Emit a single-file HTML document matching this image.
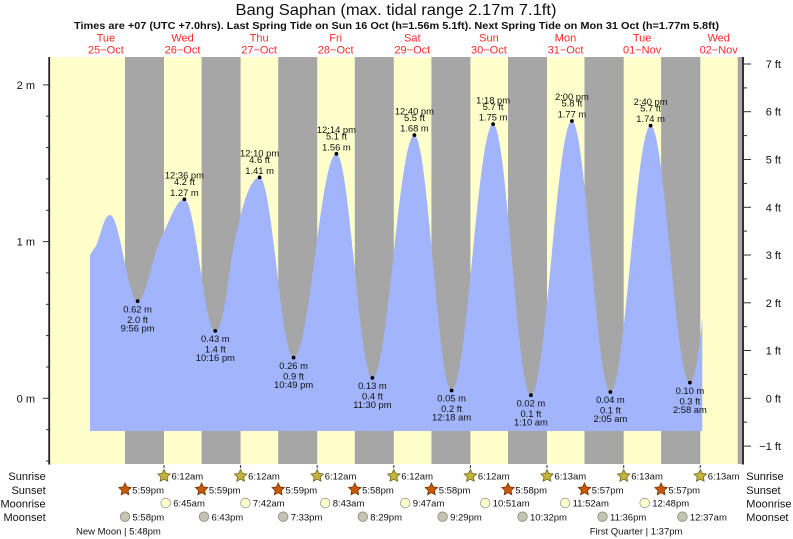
<!DOCTYPE html>
<html><head><meta charset="utf-8"><style>
html,body{margin:0;padding:0;background:#fff;}
svg{display:block;}
text{font-family:"Liberation Sans",Arial,sans-serif;}
</style></head><body>
<svg width="793" height="539" viewBox="0 0 793 539" xmlns="http://www.w3.org/2000/svg">
<rect width="793" height="539" fill="#fff"/>
<!-- Header -->
<text x="396" y="15" font-size="16" text-anchor="middle" fill="#111" textLength="321" lengthAdjust="spacingAndGlyphs">Bang Saphan (max. tidal range 2.17m 7.1ft)</text>
<text x="396.5" y="29" font-size="10" font-weight="bold" text-anchor="middle" fill="#111" textLength="645" lengthAdjust="spacingAndGlyphs">Times are +07 (UTC +7.0hrs). Last Spring Tide on Sun 16 Oct (h=1.56m 5.1ft). Next Spring Tide on Mon 31 Oct (h=1.77m 5.8ft)</text>
<g font-size="11" fill="#ff2a2a" text-anchor="middle">
<text x="105.9" y="41.5">Tue</text><text x="105.9" y="53.5">25−Oct</text>
<text x="182.5" y="41.5">Wed</text><text x="182.5" y="53.5">26−Oct</text>
<text x="259.1" y="41.5">Thu</text><text x="259.1" y="53.5">27−Oct</text>
<text x="335.7" y="41.5">Fri</text><text x="335.7" y="53.5">28−Oct</text>
<text x="412.3" y="41.5">Sat</text><text x="412.3" y="53.5">29−Oct</text>
<text x="488.9" y="41.5">Sun</text><text x="488.9" y="53.5">30−Oct</text>
<text x="565.5" y="41.5">Mon</text><text x="565.5" y="53.5">31−Oct</text>
<text x="642.1" y="41.5">Tue</text><text x="642.1" y="53.5">01−Nov</text>
<text x="718.7" y="41.5">Wed</text><text x="718.7" y="53.5">02−Nov</text>
</g>
<!-- Plot background -->
<rect x="50" y="57" width="692" height="407" fill="#ffffcc"/>
<g fill="#a6a6a6">
<rect x="125.0" y="57" width="39.0" height="407"/>
<rect x="201.6" y="57" width="39.0" height="407"/>
<rect x="278.2" y="57" width="39.0" height="407"/>
<rect x="354.8" y="57" width="39.0" height="407"/>
<rect x="431.4" y="57" width="39.0" height="407"/>
<rect x="508.0" y="57" width="39.0" height="407"/>
<rect x="584.5" y="57" width="39.2" height="407"/>
<rect x="661.1" y="57" width="39.2" height="407"/>
<rect x="737.7" y="57" width="4.5" height="407"/>
</g>
<!-- Tide fill -->
<path fill="#a1b4fc" d="M90,431 L90,255 C92,251 94,249 96,246 C101,235 104,215 110,215 C120,215 127.6,301.1 137.6,301.1 C146,301.1 152,255 161.7,236.7 C170,221 176,199.3 184.4,199.3 C195.65,199.3 204.05,330.9 215.3,330.9 C224,330.9 228,275 233,250 C239,220 248,177.4 259.6,177.4 C272,177.4 281.2,357.6 293.6,357.6 C309.2,357.6 320.8,153.8 336.4,153.8 C349.5,153.8 359.3,377.9 372.4,377.9 C387.7,377.9 399.1,135.1 414.4,135.1 C427.9,135.1 438.1,390.5 451.6,390.5 C466.7,390.5 478,124.1 493.1,124.1 C506.9,124.1 517.1,395.2 530.9,395.2 C545.8,395.2 557,121 571.9,121 C585.9,121 596.4,392 610.4,392 C625,392 636,125.6 650.6,125.6 C664.9,125.6 675.6,382.6 689.9,382.6 C695,382.6 699.5,350 702.3,316.7 L702.3,431 Z"/>
<!-- Dots -->
<g fill="#000">
<circle cx="137.6" cy="301.1" r="1.9"/><circle cx="184.4" cy="199.3" r="1.9"/>
<circle cx="215.3" cy="330.9" r="1.9"/><circle cx="259.6" cy="177.4" r="1.9"/>
<circle cx="293.6" cy="357.6" r="1.9"/><circle cx="336.4" cy="153.8" r="1.9"/>
<circle cx="372.4" cy="377.9" r="1.9"/><circle cx="414.4" cy="135.1" r="1.9"/>
<circle cx="451.6" cy="390.5" r="1.9"/><circle cx="493.1" cy="124.1" r="1.9"/>
<circle cx="530.9" cy="395.2" r="1.9"/><circle cx="571.9" cy="121.0" r="1.9"/>
<circle cx="610.4" cy="392.0" r="1.9"/><circle cx="650.6" cy="125.6" r="1.9"/>
<circle cx="689.9" cy="382.6" r="1.9"/>
</g>
<!-- High labels -->
<g font-size="9.4" fill="#111" text-anchor="middle">
<text x="184.4" y="178.5">12:36 pm</text><text x="184.4" y="185">4.2 ft</text><text x="184.4" y="195.8">1.27 m</text>
<text x="259.6" y="156.6">12:10 pm</text><text x="259.6" y="163.1">4.6 ft</text><text x="259.6" y="173.9">1.41 m</text>
<text x="336.4" y="133">12:14 pm</text><text x="336.4" y="139.5">5.1 ft</text><text x="336.4" y="150.3">1.56 m</text>
<text x="414.4" y="114.3">12:40 pm</text><text x="414.4" y="120.8">5.5 ft</text><text x="414.4" y="131.6">1.68 m</text>
<text x="493.1" y="103.3">1:18 pm</text><text x="493.1" y="109.8">5.7 ft</text><text x="493.1" y="120.6">1.75 m</text>
<text x="571.9" y="100.2">2:00 pm</text><text x="571.9" y="106.7">5.8 ft</text><text x="571.9" y="117.5">1.77 m</text>
<text x="650.6" y="104.8">2:40 pm</text><text x="650.6" y="111.3">5.7 ft</text><text x="650.6" y="122.1">1.74 m</text>
</g>
<!-- Low labels -->
<g font-size="9.4" fill="#111" text-anchor="middle">
<text x="137.6" y="312.3">0.62 m</text><text x="137.6" y="322.8">2.0 ft</text><text x="137.6" y="331.3">9:56 pm</text>
<text x="215.3" y="342.1">0.43 m</text><text x="215.3" y="352.6">1.4 ft</text><text x="215.3" y="361.1">10:16 pm</text>
<text x="293.6" y="368.8">0.26 m</text><text x="293.6" y="379.3">0.9 ft</text><text x="293.6" y="387.8">10:49 pm</text>
<text x="372.4" y="389.1">0.13 m</text><text x="372.4" y="399.6">0.4 ft</text><text x="372.4" y="408.1">11:30 pm</text>
<text x="451.6" y="401.7">0.05 m</text><text x="451.6" y="412.2">0.2 ft</text><text x="451.6" y="420.7">12:18 am</text>
<text x="530.9" y="406.4">0.02 m</text><text x="530.9" y="416.9">0.1 ft</text><text x="530.9" y="425.4">1:10 am</text>
<text x="610.4" y="403.2">0.04 m</text><text x="610.4" y="413.7">0.1 ft</text><text x="610.4" y="422.2">2:05 am</text>
<text x="689.9" y="393.8">0.10 m</text><text x="689.9" y="404.3">0.3 ft</text><text x="689.9" y="412.8">2:58 am</text>
</g>
<!-- Axes -->
<rect x="48.3" y="57" width="1.8" height="407.5" fill="#222"/>
<rect x="742" y="57" width="2" height="407.5" fill="#333"/>
<g stroke="#333" stroke-width="1">
<line x1="43" y1="398.3" x2="49" y2="398.3"/><line x1="43" y1="241.6" x2="49" y2="241.6"/><line x1="43" y1="84.9" x2="49" y2="84.9"/>
<line x1="46" y1="461.0" x2="49" y2="461.0"/><line x1="46" y1="429.6" x2="49" y2="429.6"/>
<line x1="46" y1="367.0" x2="49" y2="367.0"/><line x1="46" y1="335.6" x2="49" y2="335.6"/>
<line x1="46" y1="304.3" x2="49" y2="304.3"/><line x1="46" y1="272.9" x2="49" y2="272.9"/>
<line x1="46" y1="210.3" x2="49" y2="210.3"/><line x1="46" y1="178.9" x2="49" y2="178.9"/>
<line x1="46" y1="147.6" x2="49" y2="147.6"/><line x1="46" y1="116.2" x2="49" y2="116.2"/>
<!-- right -->
<line x1="744" y1="446.1" x2="751" y2="446.1"/><line x1="744" y1="398.3" x2="751" y2="398.3"/>
<line x1="744" y1="350.5" x2="751" y2="350.5"/><line x1="744" y1="302.8" x2="751" y2="302.8"/>
<line x1="744" y1="255.0" x2="751" y2="255.0"/><line x1="744" y1="207.3" x2="751" y2="207.3"/>
<line x1="744" y1="159.5" x2="751" y2="159.5"/><line x1="744" y1="111.7" x2="751" y2="111.7"/>
<line x1="744" y1="64.0" x2="751" y2="64.0"/>
<line x1="744" y1="422.2" x2="747" y2="422.2"/><line x1="744" y1="374.4" x2="747" y2="374.4"/>
<line x1="744" y1="326.7" x2="747" y2="326.7"/><line x1="744" y1="278.9" x2="747" y2="278.9"/>
<line x1="744" y1="231.1" x2="747" y2="231.1"/><line x1="744" y1="183.4" x2="747" y2="183.4"/>
<line x1="744" y1="135.6" x2="747" y2="135.6"/><line x1="744" y1="87.9" x2="747" y2="87.9"/>
<!-- bottom ticks at sunrise -->
<line x1="164.0" y1="465" x2="164.0" y2="468"/><line x1="240.6" y1="465" x2="240.6" y2="468"/>
<line x1="317.2" y1="465" x2="317.2" y2="468"/><line x1="393.8" y1="465" x2="393.8" y2="468"/>
<line x1="470.4" y1="465" x2="470.4" y2="468"/><line x1="547.0" y1="465" x2="547.0" y2="468"/>
<line x1="623.7" y1="465" x2="623.7" y2="468"/><line x1="700.3" y1="465" x2="700.3" y2="468"/>
</g>
<g font-size="11" fill="#111" text-anchor="end">
<text x="35" y="402.3">0 m</text><text x="35" y="245.6">1 m</text><text x="35" y="88.9">2 m</text>
</g>
<g font-size="11" fill="#111" text-anchor="end">
<text x="781" y="68">7 ft</text><text x="781" y="115.7">6 ft</text><text x="781" y="163.5">5 ft</text>
<text x="781" y="211.3">4 ft</text><text x="781" y="259">3 ft</text><text x="781" y="306.8">2 ft</text>
<text x="781" y="354.5">1 ft</text><text x="781" y="402.3">0 ft</text><text x="781" y="450.1">−1 ft</text>
</g>
<!-- Row labels -->
<g font-size="11" fill="#111" text-anchor="end">
<text x="45.7" y="479.8">Sunrise</text><text x="45.7" y="493.8">Sunset</text>
<text x="45.7" y="507.3">Moonrise</text><text x="45.7" y="520.8">Moonset</text>
</g>
<g font-size="11" fill="#111">
<text x="746.3" y="479.8">Sunrise</text><text x="746.3" y="493.8">Sunset</text>
<text x="746.3" y="507.3">Moonrise</text><text x="746.3" y="520.8">Moonset</text>
</g>
<!-- Sunrise stars -->
<g fill="#c4b43c" stroke="#6e6420" stroke-width="0.8">
<polygon transform="translate(164.0,476)" points="0,-6.5 1.88,-2.59 6.18,-2.01 3.04,0.99 3.82,5.26 0,3.2 -3.82,5.26 -3.04,0.99 -6.18,-2.01 -1.88,-2.59"/>
<polygon transform="translate(240.6,476)" points="0,-6.5 1.88,-2.59 6.18,-2.01 3.04,0.99 3.82,5.26 0,3.2 -3.82,5.26 -3.04,0.99 -6.18,-2.01 -1.88,-2.59"/>
<polygon transform="translate(317.2,476)" points="0,-6.5 1.88,-2.59 6.18,-2.01 3.04,0.99 3.82,5.26 0,3.2 -3.82,5.26 -3.04,0.99 -6.18,-2.01 -1.88,-2.59"/>
<polygon transform="translate(393.8,476)" points="0,-6.5 1.88,-2.59 6.18,-2.01 3.04,0.99 3.82,5.26 0,3.2 -3.82,5.26 -3.04,0.99 -6.18,-2.01 -1.88,-2.59"/>
<polygon transform="translate(470.4,476)" points="0,-6.5 1.88,-2.59 6.18,-2.01 3.04,0.99 3.82,5.26 0,3.2 -3.82,5.26 -3.04,0.99 -6.18,-2.01 -1.88,-2.59"/>
<polygon transform="translate(547.0,476)" points="0,-6.5 1.88,-2.59 6.18,-2.01 3.04,0.99 3.82,5.26 0,3.2 -3.82,5.26 -3.04,0.99 -6.18,-2.01 -1.88,-2.59"/>
<polygon transform="translate(623.7,476)" points="0,-6.5 1.88,-2.59 6.18,-2.01 3.04,0.99 3.82,5.26 0,3.2 -3.82,5.26 -3.04,0.99 -6.18,-2.01 -1.88,-2.59"/>
<polygon transform="translate(700.3,476)" points="0,-6.5 1.88,-2.59 6.18,-2.01 3.04,0.99 3.82,5.26 0,3.2 -3.82,5.26 -3.04,0.99 -6.18,-2.01 -1.88,-2.59"/>
</g>
<!-- Sunset stars -->
<g fill="#c85a08" stroke="#6e3000" stroke-width="0.8">
<polygon transform="translate(125.0,489.5)" points="0,-6.5 1.88,-2.59 6.18,-2.01 3.04,0.99 3.82,5.26 0,3.2 -3.82,5.26 -3.04,0.99 -6.18,-2.01 -1.88,-2.59"/>
<polygon transform="translate(201.6,489.5)" points="0,-6.5 1.88,-2.59 6.18,-2.01 3.04,0.99 3.82,5.26 0,3.2 -3.82,5.26 -3.04,0.99 -6.18,-2.01 -1.88,-2.59"/>
<polygon transform="translate(278.2,489.5)" points="0,-6.5 1.88,-2.59 6.18,-2.01 3.04,0.99 3.82,5.26 0,3.2 -3.82,5.26 -3.04,0.99 -6.18,-2.01 -1.88,-2.59"/>
<polygon transform="translate(354.8,489.5)" points="0,-6.5 1.88,-2.59 6.18,-2.01 3.04,0.99 3.82,5.26 0,3.2 -3.82,5.26 -3.04,0.99 -6.18,-2.01 -1.88,-2.59"/>
<polygon transform="translate(431.4,489.5)" points="0,-6.5 1.88,-2.59 6.18,-2.01 3.04,0.99 3.82,5.26 0,3.2 -3.82,5.26 -3.04,0.99 -6.18,-2.01 -1.88,-2.59"/>
<polygon transform="translate(508.0,489.5)" points="0,-6.5 1.88,-2.59 6.18,-2.01 3.04,0.99 3.82,5.26 0,3.2 -3.82,5.26 -3.04,0.99 -6.18,-2.01 -1.88,-2.59"/>
<polygon transform="translate(584.5,489.5)" points="0,-6.5 1.88,-2.59 6.18,-2.01 3.04,0.99 3.82,5.26 0,3.2 -3.82,5.26 -3.04,0.99 -6.18,-2.01 -1.88,-2.59"/>
<polygon transform="translate(661.1,489.5)" points="0,-6.5 1.88,-2.59 6.18,-2.01 3.04,0.99 3.82,5.26 0,3.2 -3.82,5.26 -3.04,0.99 -6.18,-2.01 -1.88,-2.59"/>
</g>
<!-- Moonrise circles -->
<g fill="#ffffcc" stroke="#999" stroke-width="0.8">
<circle cx="165.7" cy="503" r="4.8"/><circle cx="245.4" cy="503" r="4.8"/>
<circle cx="325.2" cy="503" r="4.8"/><circle cx="405.2" cy="503" r="4.8"/>
<circle cx="485.2" cy="503" r="4.8"/><circle cx="565.1" cy="503" r="4.8"/>
<circle cx="644.7" cy="503" r="4.8"/>
</g>
<!-- Moonset circles -->
<g fill="#c4c4b0" stroke="#888" stroke-width="0.8">
<circle cx="125.0" cy="516.7" r="4.8"/><circle cx="204.0" cy="516.7" r="4.8"/>
<circle cx="283.2" cy="516.7" r="4.8"/><circle cx="362.8" cy="516.7" r="4.8"/>
<circle cx="442.6" cy="516.7" r="4.8"/><circle cx="522.5" cy="516.7" r="4.8"/>
<circle cx="602.5" cy="516.7" r="4.8"/><circle cx="682.4" cy="516.7" r="4.8"/>
</g>
<!-- Times -->
<g font-size="9.5" fill="#111">
<text x="171.5" y="479.5">6:12am</text><text x="248.1" y="479.5">6:12am</text>
<text x="324.7" y="479.5">6:12am</text><text x="401.3" y="479.5">6:12am</text>
<text x="477.9" y="479.5">6:12am</text><text x="554.5" y="479.5">6:13am</text>
<text x="631.2" y="479.5">6:13am</text><text x="707.8" y="479.5">6:13am</text>

<text x="132.3" y="493.3">5:59pm</text><text x="208.9" y="493.3">5:59pm</text>
<text x="285.5" y="493.3">5:59pm</text><text x="362.1" y="493.3">5:58pm</text>
<text x="438.7" y="493.3">5:58pm</text><text x="515.3" y="493.3">5:58pm</text>
<text x="591.8" y="493.3">5:57pm</text><text x="668.4" y="493.3">5:57pm</text>

<text x="173.2" y="506.7">6:45am</text><text x="252.9" y="506.7">7:42am</text>
<text x="332.7" y="506.7">8:43am</text><text x="412.7" y="506.7">9:47am</text>
<text x="492.7" y="506.7">10:51am</text><text x="572.6" y="506.7">11:52am</text>
<text x="652.2" y="506.7">12:48pm</text>

<text x="132.5" y="520.4">5:58pm</text><text x="211.5" y="520.4">6:43pm</text>
<text x="290.7" y="520.4">7:33pm</text><text x="370.3" y="520.4">8:29pm</text>
<text x="450.1" y="520.4">9:29pm</text><text x="530.0" y="520.4">10:32pm</text>
<text x="610.0" y="520.4">11:36pm</text><text x="689.9" y="520.4">12:37am</text>

<text x="76" y="534.3">New Moon | 5:48pm</text>
<text x="589.7" y="534.3">First Quarter | 1:37pm</text>
</g>
</svg>
</body></html>
